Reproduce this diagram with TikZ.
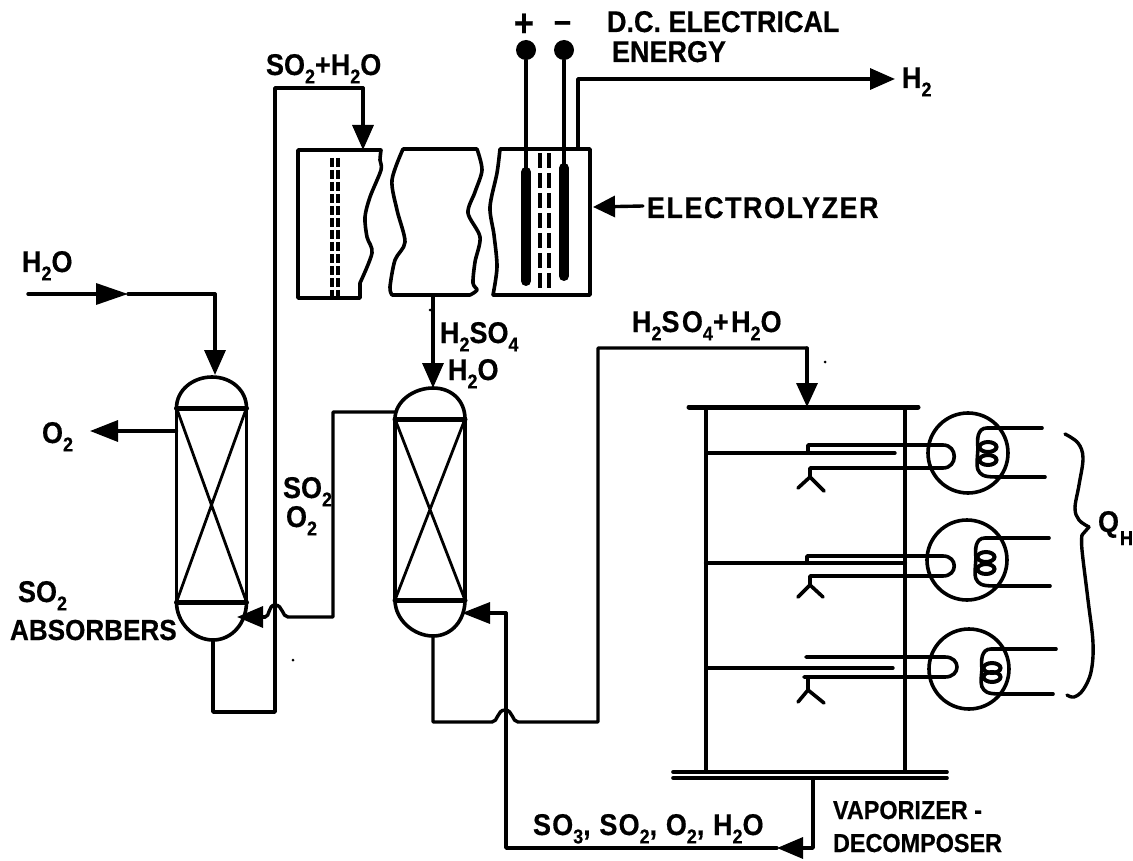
\documentclass[tikz,border=0pt]{standalone}
\usepackage{fontspec}
\usepackage{graphicx}
\setmainfont{Liberation Sans}[BoldFeatures={FakeBold=0.5,FakeStretch=0.9}]
\usetikzlibrary{arrows.meta}
\newcommand{\sbs}[1]{\raisebox{-.28em}{\fontsize{20}{20}\selectfont #1}}
\tikzset{
  pipe/.style={line width=3.4pt,line join=round,line cap=round},
  thinpipe/.style={line width=2.8pt,line join=round,line cap=round},
  wall/.style={line width=3.6pt,line join=round,line cap=round},
  tipped/.style={-{Triangle[length=#1,width=21pt]}},
  tipped/.default=25pt,
  lab/.style={font=\bfseries\fontsize{30}{32}\selectfont,anchor=base west,inner sep=0pt,outer sep=0pt},
  column/.style={draw,line width=3.6pt,minimum width=70pt,inner sep=0pt,outer sep=0pt},
  electrode/.style={line width=10pt,line cap=round},
  memb/.style={line width=3.4pt},
  terminal/.style={circle,fill=black,minimum size=20pt,inner sep=0pt},
  speck/.style={circle,fill=black,minimum size=3pt,inner sep=0pt},
  burner/.style={circle,draw,line width=3.6pt,minimum size=80pt,inner sep=0pt,outer sep=0pt},
  plate/.style={line width=5pt,line cap=round},
}
\newcommand{\coil}[3]{% x of loops, y top, y bottom
  \draw[wall] (#1+15,#2) -- (#1+1,#2) .. controls (#1-9,#2) and (#1-9,#2+12) .. (#1-8,#2+20)
     .. controls (#1-9,#3-14) and (#1-10,#3-8) .. (#1-6,#3-4) .. controls (#1-3,#3) and (#1+5,#3) .. (#1+15,#3);
  \draw[line width=4pt] (#1+2,#2+19) ellipse[x radius=8.5pt,y radius=5pt];
  \draw[line width=4pt] (#1+2,#3-17) ellipse[x radius=8.5pt,y radius=5pt];
}
\begin{document}
\begin{tikzpicture}[x=1pt,y=-1pt]
\useasboundingbox (0,0) rectangle (1133,861);

% ---- electrolyzer
\draw[wall] (363,150) -- (298,150) -- (298,298) -- (360,298) -- (360,283)
  plot[smooth] coordinates {(360,283) (372,253) (367,237) (365,217) (370,197) (381,170) (380,160) (381,150)} -- (363,150);
\coordinate (elA) at (363,150);
\draw[wall] (403,149) -- (477,149) plot[smooth] coordinates {(477,149) (482,170) (475,192) (468,213) (480,237) (475,262) (473,283) (477,290) (470,295)}
  -- (392,295) plot[smooth] coordinates {(392,295) (390,287) (395,260) (405,242) (397,210) (392,180) (403,149)};
\coordinate (elB) at (433,295);
\draw[wall] (590,149) -- (590,295) -- (493,295) plot[smooth] coordinates {(493,295) (497,267) (494,235) (490,207) (497,173) (500,149)} -- (590,149);
\coordinate (elC) at (578,149);
\coordinate (elE) at (593,207);
\draw[memb,dash pattern=on 9pt off 3pt] (332,158) -- (332,298);
\draw[memb,dash pattern=on 9pt off 3pt] (338,158) -- (338,298);
\draw[memb,dash pattern=on 15pt off 5pt] (540,153) -- (540,295);
\draw[memb,dash pattern=on 15pt off 5pt] (549,153) -- (549,295);
\node[terminal] (tplus) at (526,50) {};
\node[terminal] (tminus) at (564,50) {};
\coordinate (eplus) at (526,172);
\coordinate (eminus) at (564,168);
\draw[pipe] (tplus) -- (eplus);
\draw[pipe] (tminus) -- (eminus);
\draw[electrode] (eplus) -- (526,281);
\draw[electrode] (eminus) -- (564,276);

% ---- columns
\node[column,minimum height=194pt] (absA) at (211.5,505) {};
\draw[thinpipe] (absA.north west) -- (absA.south east) (absA.north east) -- (absA.south west);
\draw[plate] (absA.north west) -- (absA.north east);
\draw[plate] (absA.south west) -- (absA.south east);
\coordinate (absAtop) at (212,377);
\coordinate (absAbot) at (213,640);
\draw[wall] (absA.north west) .. controls +(0,-18) and +(-19,0) .. (absAtop) .. controls +(19,0) and +(0,-18) .. (absA.north east);
\draw[wall] (absA.south west) .. controls +(0,21) and +(-19,0) .. (absAbot) .. controls +(19,0) and +(0,21) .. (absA.south east);

\node[column,minimum height=181pt] (absB) at (430,509.5) {};
\draw[thinpipe] (absB.north west) -- (absB.south east) (absB.north east) -- (absB.south west);
\draw[plate] (absB.north west) -- (absB.north east);
\draw[plate] (absB.south west) -- (absB.south east);
\coordinate (absBtop) at (433,388);
\coordinate (absBbot) at (433,636);
\draw[wall] (absB.north west) .. controls +(0,-18) and +(-19,0) .. (absBtop) .. controls +(19,0) and +(0,-18) .. (absB.north east);
\draw[wall] (absB.south west) .. controls +(0,20) and +(-19,0) .. (absBbot) .. controls +(19,0) and +(0,20) .. (absB.south east);

% ---- vaporizer
\coordinate (topL) at (689,407);
\coordinate (topR) at (918,407);
\coordinate (topIn) at (807,407);
\draw[plate] (topL) -- (topR);
\draw[wall] (706,407) -- (706,772);
\draw[wall] (905,407) -- (905,772);
\draw[wall] (673,772) -- (947,772);
\draw[wall] (673,778) -- (947,778);
\coordinate (botOut) at (813,778);

% units
\node[burner] (burnA) at (968,453) {};
\draw[pipe] (706,453) -- (895,453);
\draw[wall] (808,452) -- (808,445) -- (943,445) .. controls (958,445) and (958,468) .. (943,468) -- (810,468) -- (810,477) -- (798,488) (810,477) -- (824,491);
\coil{986}{428}{477}
\draw[wall] (1000,428) -- (1042,428);
\draw[wall] (1000,477) -- (1045,477);

\node[burner] (burnB) at (967,560) {};
\draw[pipe,line width=4.4pt] (706,563) -- (905,563);
\draw[wall] (807,563) -- (807,556) -- (943,556) .. controls (958,556) and (958,576) .. (943,576) -- (810,576) -- (810,585) -- (798,597) (810,585) -- (823,597);
\coil{984}{538}{586}
\draw[wall] (1000,538) -- (1049,538);
\draw[wall] (1000,586) -- (1050,586);

\node[burner] (burnC) at (969,669) {};
\draw[pipe] (706,668) -- (893,668);
\draw[wall] (806,657) -- (945,657) .. controls (961,657) and (961,677) .. (945,677) -- (804,677) (808,677) -- (808,690) -- (798,702) (808,690) -- (824,703);
\coil{990}{649}{694}
\draw[wall] (1000,649) -- (1056,649);
\draw[wall] (1000,694) -- (1053,694);

\draw[line width=3.4pt,line cap=round] plot[smooth,tension=.6] coordinates {(1065,434) (1078,443) (1083,458) (1079,485) (1075,508) (1079,520) (1089,527)};
\draw[line width=3.4pt,line cap=round] (1089,527) -- (1082,535);
\draw[line width=3.4pt,line cap=round] plot[smooth,tension=.6] coordinates {(1082,535) (1082,550) (1088,600) (1093,643) (1091,672) (1083,690) (1074,697) (1067,695)};

% ---- connectors
\coordinate (h2oIn) at (28,294);
\coordinate (h2oMid) at (128,294);
\coordinate (h2oCorner) at (215,294);
\draw[pipe,tipped=32pt] (h2oIn) -- (h2oMid);
\draw[pipe] (h2oMid) -- (h2oCorner);
\draw[pipe,tipped] (h2oCorner) -- (215,375);

\coordinate (o2Tip) at (90,431);
\draw[pipe,tipped=28pt] (absA.west |- o2Tip) -- (o2Tip);

\coordinate (so2a) at (213,712);
\coordinate (so2b) at (275,712);
\coordinate (so2c) at (275,88);
\coordinate (so2d) at (363,88);
\draw[pipe] (absAbot) -- (so2a) -- (so2b) -- (so2c) -- (so2d);
\draw[pipe,tipped] (so2d) -- (elA);

\draw[pipe,tipped] (elC) -- (578,79) -- (895,79);
\draw[pipe,tipped=22pt] (643,206) -- (elE);
\draw[pipe,tipped] (elB) -- (absBtop);

\coordinate (gasA) at (395,412);
\coordinate (gasB) at (333,412);
\coordinate (gasC) at (333,617);
\coordinate (gasD) at (288,617);
\coordinate (gasE) at (265,617);
\draw[pipe] (gasA) -- (gasB) -- (gasC) -- (gasD) .. controls (282,617) and (283,605) .. (275,605) .. controls (268,605) and (270,617) .. (gasE);
\draw[pipe,tipped=26pt] (gasE) -- (237,617);

\coordinate (liqA) at (433,722);
\coordinate (liqB) at (518,722);
\coordinate (liqC) at (492,722);
\coordinate (liqD) at (598,722);
\coordinate (liqE) at (598,348);
\coordinate (liqF) at (807,348);
\draw[pipe] (absBbot) -- (liqA) -- (liqC) .. controls (498,722) and (497,710) .. (505,710) .. controls (513,710) and (512,722) .. (liqB) -- (liqD) -- (liqE) -- (liqF);
\draw[pipe,tipped=24pt] (liqF) -- (topIn);

\coordinate (retA) at (813,848);
\coordinate (retB) at (777,848);
\coordinate (retC) at (506,848);
\coordinate (retD) at (506,613);
\draw[pipe,tipped=26pt] (botOut) -- (retA) -- (retB);
\draw[pipe] (retB) -- (retC) -- (retD);
\draw[pipe,tipped=28pt] (retD) -- (462,613);

% ---- specks
\node[speck] (spA) at (825,362) {};
\node[speck] (spB) at (293,660) {};
\node[speck] (spC) at (430,310) {};

% ---- labels
\node[lab] (lSoW) at (266,75) {SO\sbs{2}+H\sbs{2}O};
\node[lab,font=\bfseries\fontsize{38}{40}\selectfont] (lPlus) at (514,36) {+};
\node[lab,font=\bfseries\fontsize{34}{36}\selectfont] (lMinus) at (554,32) {–};
\node[lab] (lDC) at (607,32) {D.C. ELECTRICAL};
\node[lab] (lEn) at (612,62) {ENERGY};
\node[lab] (lH2) at (902,88) {H\sbs{2}};
\node[lab] (lEl) at (647,218) {\addfontfeature{LetterSpace=5}ELECTROLYZER};
\node[lab] (lWat) at (22,272) {H\sbs{2}O};
\node[lab] (lO2) at (42,443) {O\sbs{2}};
\node[lab] (lS1) at (18,602) {SO\sbs{2}};
\node[lab,font=\bfseries\fontsize{29}{32}\selectfont] (lAbs) at (10,640) {ABSORBERS};
\node[lab] (lS2) at (283,498) {SO\sbs{2}};
\node[lab] (lO3) at (286,527) {O\sbs{2}};
\node[lab] (lAcid) at (440,343) {H\sbs{2}SO\sbs{4}};
\node[lab] (lW2) at (448,380) {H\sbs{2}O};
\node[lab] (lAW) at (632,332) {\addfontfeature{LetterSpace=8}H\sbs{2}SO\sbs{4}+H\sbs{2}O};
\node[lab] (lMix) at (533,835) {\addfontfeature{LetterSpace=4}SO\sbs{3}, SO\sbs{2}, O\sbs{2}, H\sbs{2}O};
\node[lab,font=\bfseries\fontsize{26}{28}\selectfont] (lVap) at (833,819) {VAPORIZER -};
\node[lab,font=\bfseries\fontsize{26}{28}\selectfont] (lDec) at (833,852) {DECOMPOSER};
\node[lab] (lQ) at (1098,532) {Q};
\node[lab,font=\bfseries\fontsize{20}{22}\selectfont] (lH) at (1120,545) {H};
\end{tikzpicture}
\end{document}
